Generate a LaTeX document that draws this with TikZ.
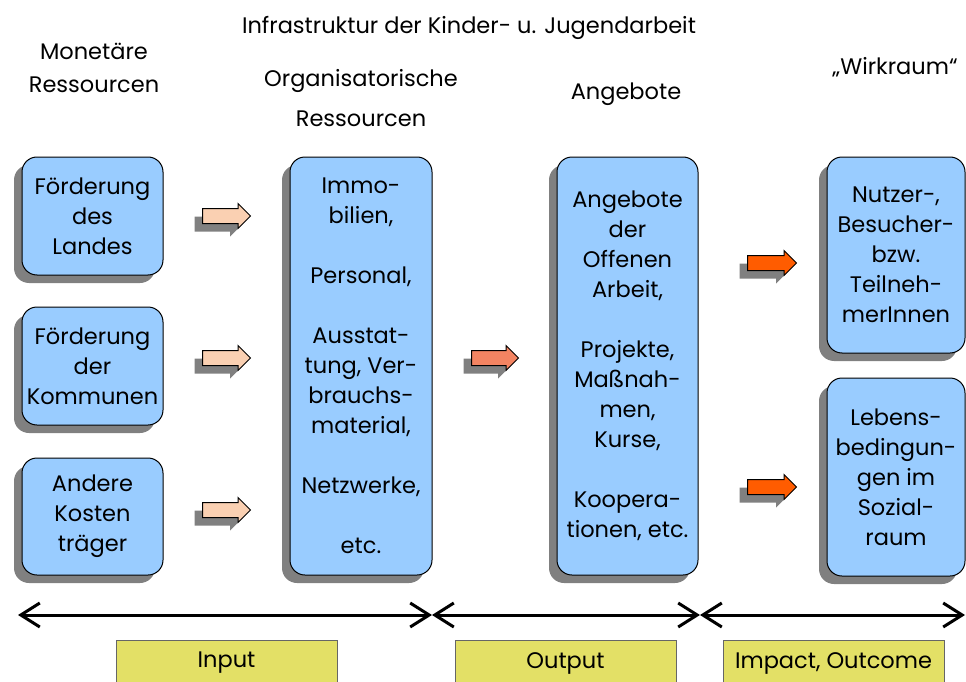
\documentclass[tikz,border=0pt]{standalone}
\usepackage{fontspec}
\setmainfont{Poppins}
\usepackage{tikz}
\usetikzlibrary{arrows.meta,shadows,shapes.arrows}

\definecolor{boxblue}{RGB}{153,204,255}
\definecolor{shadowgray}{RGB}{128,128,128}
\definecolor{arrowpeach}{RGB}{250,208,178}
\definecolor{arrowsalmon}{RGB}{243,132,98}
\definecolor{arrowred}{RGB}{255,92,0}
\definecolor{labelyellow}{RGB}{227,224,102}

\tikzset{
  grayshadow/.style={drop shadow={shadow xshift=-8pt,shadow yshift=-8pt,fill=shadowgray,opacity=1}},
  rbox/.style={draw=black,line width=1pt,fill=boxblue,rounded corners=15pt,grayshadow,
    align=center,inner sep=0pt,font=\fontsize{22.5}{30}\selectfont},
  blockarrow/.style={single arrow,draw=black,line width=1pt,grayshadow,inner xsep=0pt,
    inner ysep=7pt,single arrow head extend=5pt,anchor=tail},
  phase/.style={draw=black!60,line width=0.8pt,fill=labelyellow,minimum width=221pt,
    minimum height=46pt,font=\fontsize{22.5}{26}\selectfont},
  head/.style={align=center,font=\fontsize{22.5}{33}\selectfont},
}

\begin{document}
\begin{tikzpicture}[x=1pt,y=-1pt]
\useasboundingbox (0,0) rectangle (966,682);
\clip (0,0) rectangle (966,682);

% Ueberschriften
\node[head] (titel) at (469,28) {Infrastruktur der Kinder- u. Jugendarbeit};
\node[head] (monetaer) at (94,68) {Monetäre\\Ressourcen};
\node[head,font=\fontsize{22.5}{40}\selectfont] (organis) at (361,98) {Organisatorische\\Ressourcen};
\node[head] (angeb) at (626,94) {Angebote};
\node[head] (wirk) at (895,67) {„Wirkraum“};

% Kaesten
\node[rbox,minimum width=141pt,minimum height=118pt] (land) at (92.5,216) {Förderung\\des\\Landes};
\node[rbox,minimum width=141pt,minimum height=118pt] (kommunen) at (92.5,366) {Förderung\\der\\Kommunen};
\node[rbox,minimum width=141pt,minimum height=117pt] (traeger) at (92.5,516.5) {Andere\\Kosten\\träger};
\node[rbox,minimum width=142pt,minimum height=418pt] (orga) at (361,366)
  {Immo-\\bilien,\\[30pt]Personal,\\[30pt]Ausstat-\\tung, Ver-\\brauchs-\\material,\\[30pt]Netzwerke,\\[30pt]etc.};
\node[rbox,minimum width=141pt,minimum height=418pt] (angebot) at (627.5,366)
  {Angebote\\der\\Offenen\\Arbeit,\\[30pt]Projekte,\\Maßnah-\\men,\\Kurse,\\[30pt]Koopera-\\tionen, etc.};
\node[rbox,minimum width=138pt,minimum height=196pt] (nutzer) at (896,255) {Nutzer-,\\Besucher-\\bzw.\\Teilneh-\\merInnen};
\node[rbox,minimum width=138pt,minimum height=198pt] (lebens) at (896,477) {Lebens-\\bedingun-\\gen im\\Sozial-\\raum};

% Blockpfeile
\node[blockarrow,fill=arrowpeach,minimum height=48pt] (pfeilA) at (202,216) {};
\node[blockarrow,fill=arrowpeach,minimum height=48pt] (pfeilB) at (202,358) {};
\node[blockarrow,fill=arrowpeach,minimum height=48pt] (pfeilC) at (202,510) {};
\node[blockarrow,fill=arrowsalmon,minimum height=47pt] (pfeilD) at (471,358) {};
\node[blockarrow,fill=arrowred,minimum height=49pt] (pfeilE) at (747,263) {};
\node[blockarrow,fill=arrowred,minimum height=49pt] (pfeilF) at (747,487) {};

% Zeitachse
\coordinate (ax1) at (18,615);
\coordinate (ax2) at (432,615);
\coordinate (ax3) at (700,615);
\coordinate (ax4) at (965,615);
\draw[line width=3pt,{Straight Barb[length=19pt,width=24pt]}-{Straight Barb[length=19pt,width=24pt]}] (ax1) -- (ax2);
\draw[line width=3pt,{Straight Barb[length=19pt,width=24pt]}-{Straight Barb[length=19pt,width=24pt]}] (ax2) -- (ax3);
\draw[line width=3pt,{Straight Barb[length=19pt,width=24pt]}-{Straight Barb[length=19pt,width=24pt]}] (ax3) -- (ax4);

% Phasen
\node[phase] (input) at (226.5,663) {Input};
\node[phase] (output) at (565.5,663) {Output};
\node[phase] (impact) at (833.5,663) {Impact, Outcome};
\end{tikzpicture}
\end{document}
